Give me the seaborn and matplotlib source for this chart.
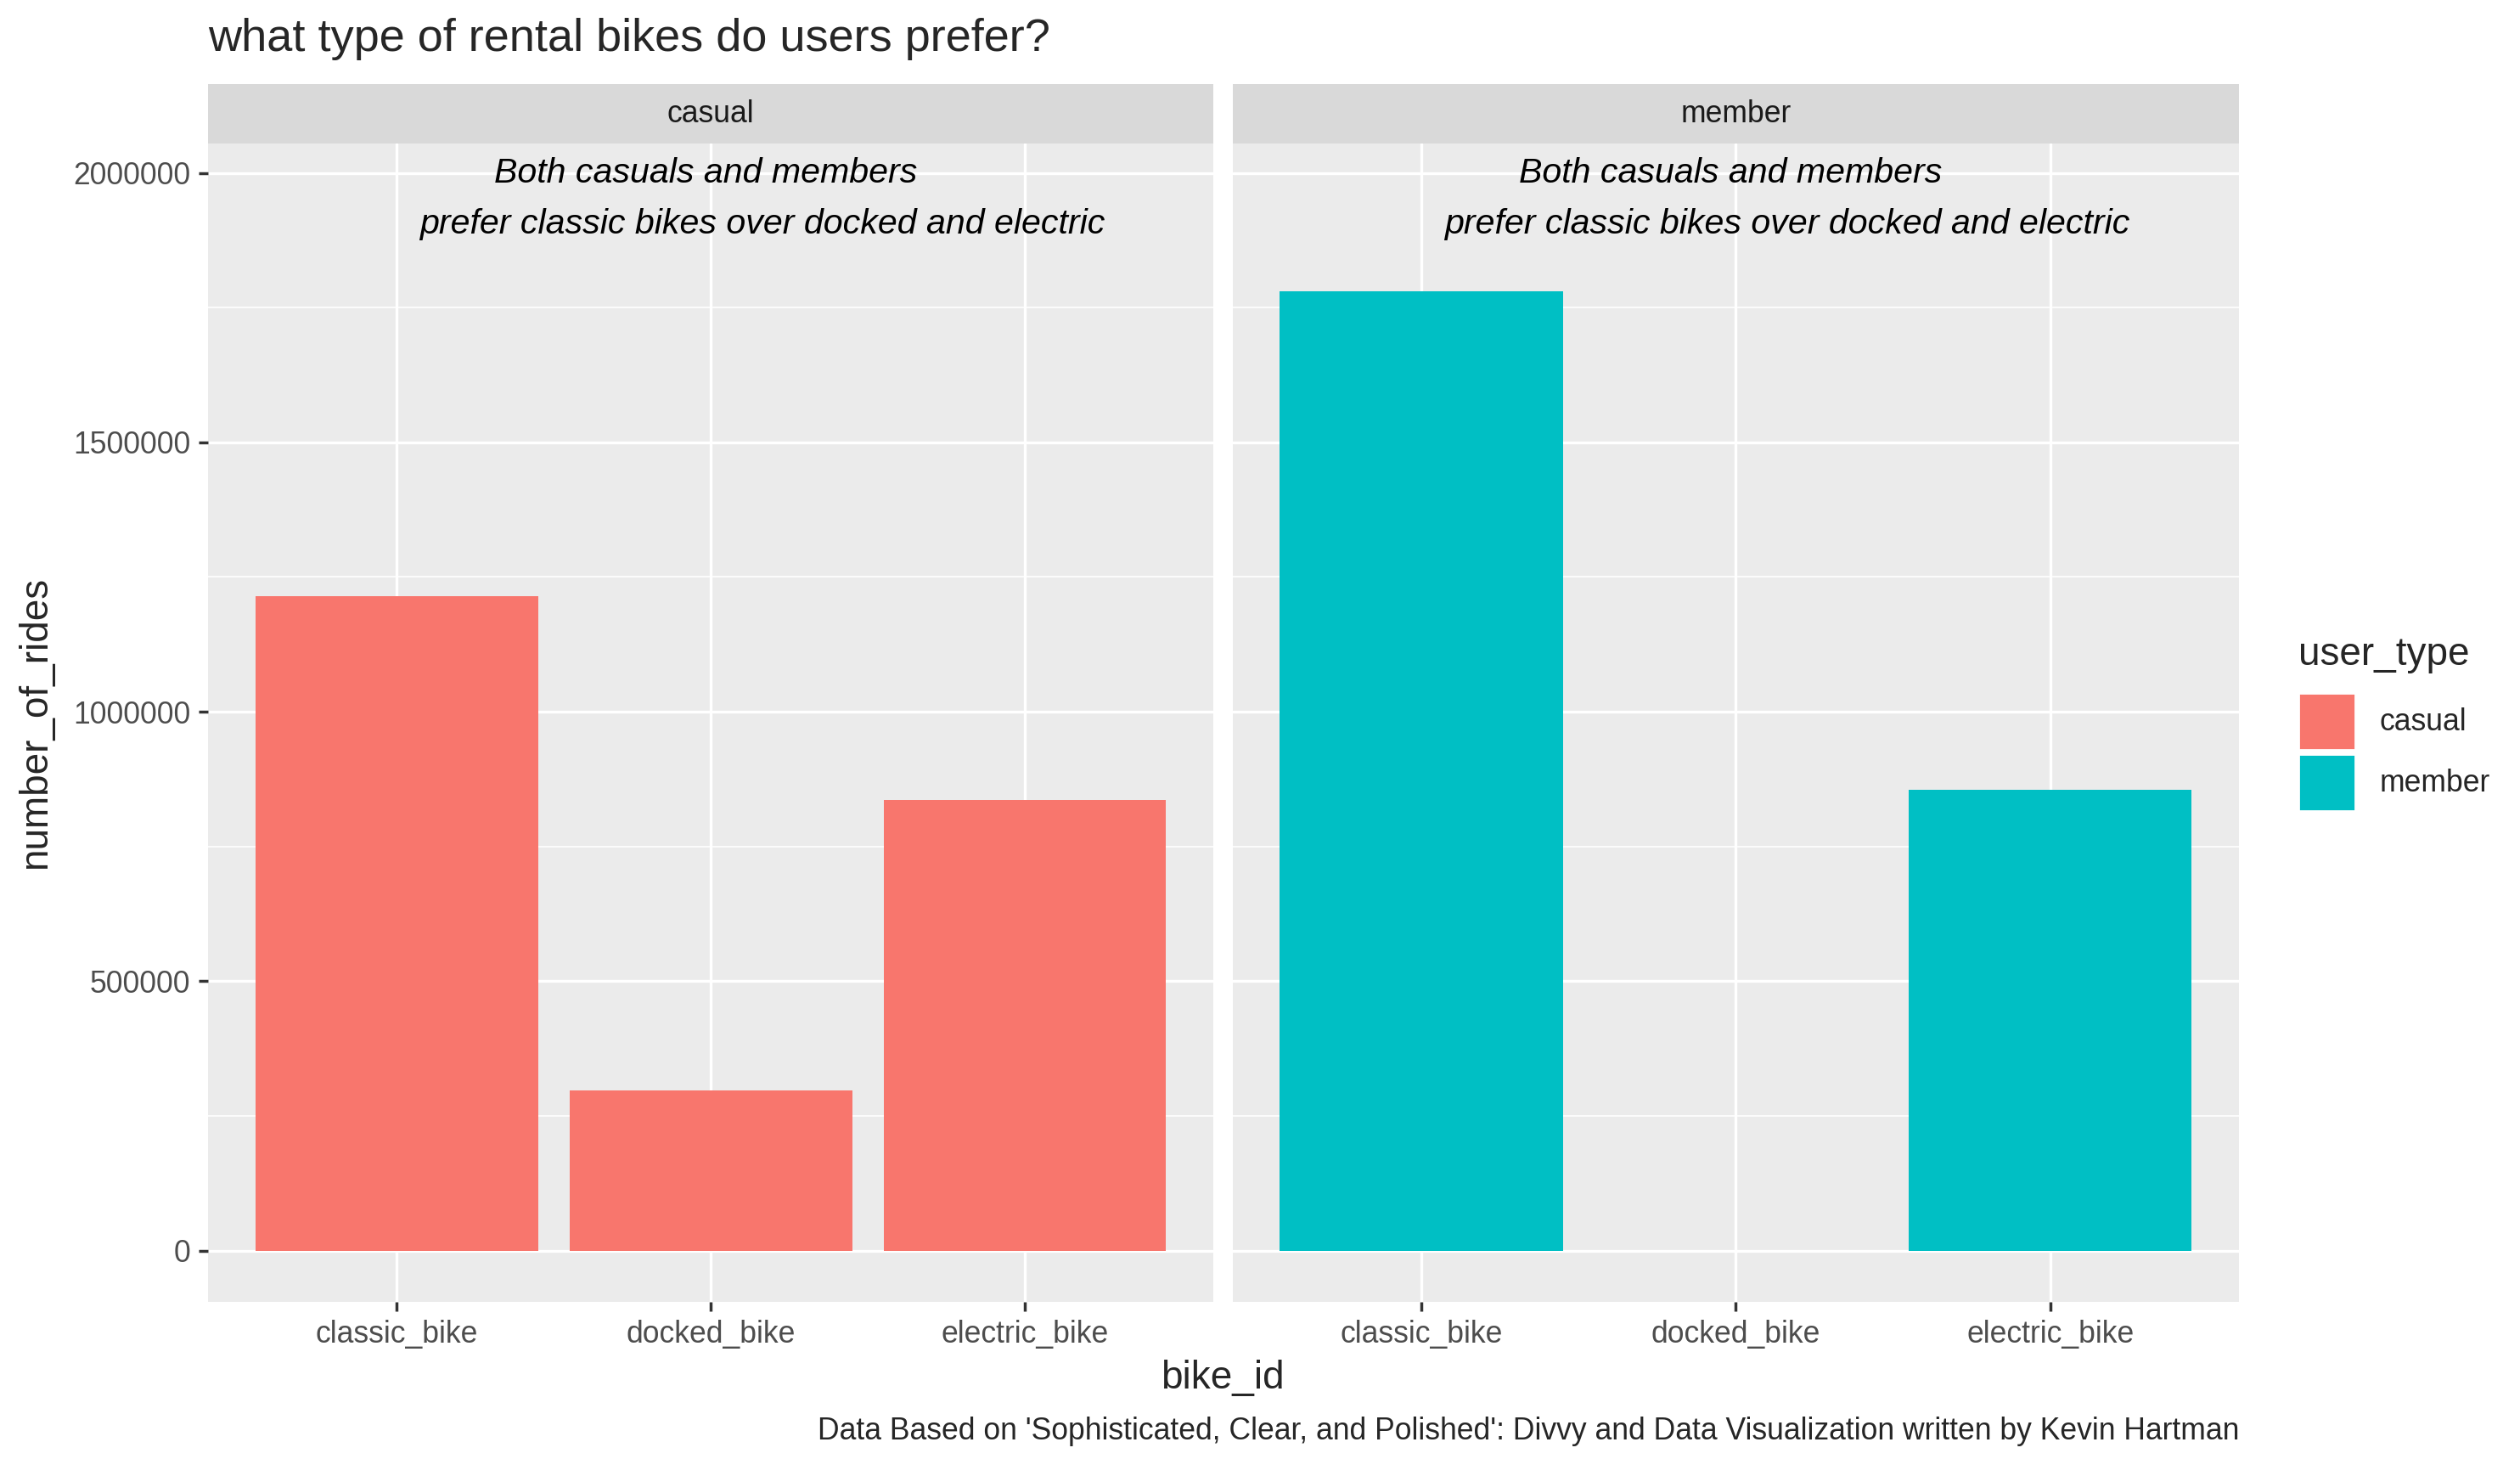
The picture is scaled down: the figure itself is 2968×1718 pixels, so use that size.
import matplotlib
matplotlib.use("Agg")
import matplotlib.pyplot as plt
import seaborn as sns
import pandas as pd
from matplotlib.patches import Rectangle

bike_types = ["classic_bike", "docked_bike", "electric_bike"]
casual_rides = [1214000, 297000, 836600]
member_rides = [1781000, 0, 854600]
user_types = ["casual", "member"]
colors = {"casual": "#F8766D", "member": "#00BFC4"}
yticks = [0, 500000, 1000000, 1500000, 2000000]

df = pd.DataFrame({
    "bike_id": bike_types * 2,
    "number_of_rides": casual_rides + member_rides,
    "user_type": ["casual"] * 3 + ["member"] * 3,
})

sns.set_theme(style="white")
plt.rcParams["font.family"] = ["Liberation Sans", "DejaVu Sans"]

W, H = 1560, 903
fig = plt.figure(figsize=(2968 / 200, 1718 / 200), dpi=200)

def fx(px): return px / W
def fy(py): return 1 - py / H

TICK = 12.8
panels = [(129, 751), (763, 1386)]
ptop, pbot, stop = 89, 806, 52
for i, (ut, (l, r)) in enumerate(zip(user_types, panels)):
    ax = fig.add_axes([fx(l), fy(pbot), fx(r) - fx(l), fy(ptop) - fy(pbot)])
    sub = df[df.user_type == ut]
    ax.set_facecolor("#EBEBEB")
    for y in [250000, 750000, 1250000, 1750000]:
        ax.axhline(y, color="white", lw=0.6, zorder=0)
    for y in yticks:
        ax.axhline(y, color="white", lw=1.2, zorder=0)
    for x in range(3):
        ax.axvline(x, color="white", lw=1.2, zorder=0)
    sns.barplot(data=sub, x="bike_id", y="number_of_rides", color=colors[ut],
                width=0.9, saturation=1, ax=ax, zorder=2, order=bike_types,
                edgecolor="none", linewidth=0)
    ax.set_xlim(-0.6, 2.6)
    ax.set_ylim(-96000, 2054000)
    ax.set_yticks(yticks)
    for s in ax.spines.values():
        s.set_visible(False)
    ax.tick_params(axis="both", length=4, color="#333333", labelsize=TICK,
                   labelcolor="#4D4D4D", direction="out", bottom=True, left=(i == 0))
    if i == 0:
        ax.set_yticklabels([str(v) for v in yticks])
    else:
        ax.set_yticklabels([])
    ax.set_xlabel("")
    ax.set_ylabel("")
    ax.text(0.984, 2000000, "Both casuals and members", style="italic",
            ha="center", va="center", fontsize=14.8, color="black", zorder=3)
    ax.text(1.164, 1904000, "prefer classic bikes over docked and electric", style="italic",
            ha="center", va="center", fontsize=14.8, color="black", zorder=3)
    sax = fig.add_axes([fx(l), fy(ptop), fx(r) - fx(l), fy(stop) - fy(ptop)])
    sax.set_facecolor("#D9D9D9")
    sax.set_xticks([]); sax.set_yticks([])
    for s in sax.spines.values():
        s.set_visible(False)
    sax.text(0.5, 0.5, ut, ha="center", va="center", fontsize=TICK,
             color="#1A1A1A", transform=sax.transAxes)

fig.text(fx(129), fy(24), "what type of rental bikes do users prefer?",
         fontsize=19.5, ha="left", va="center")
fig.text(fx(757), fy(853), "bike_id", fontsize=16.5, ha="center", va="center")
fig.text(fx(22), fy(447), "number_of_rides", fontsize=16.5, ha="center",
         va="center", rotation=90)
fig.text(fx(1386), fy(886),
         "Data Based on 'Sophisticated, Clear, and Polished': Divvy and Data Visualization written by Kevin Hartman",
         fontsize=TICK, ha="right", va="center")

fig.text(fx(1423), fy(405), "user_type", fontsize=16.5, ha="left", va="center")
for j, ut in enumerate(user_types):
    y0 = 429 + j * 38
    fig.patches.append(Rectangle((fx(1423), fy(y0 + 35)), fx(35), fy(y0) - fy(y0 + 35),
                                 transform=fig.transFigure, facecolor=colors[ut],
                                 edgecolor="white", lw=1))
    fig.text(fx(1473), fy(y0 + 18), ut, fontsize=TICK, ha="left", va="center")

fig.savefig("out.png", dpi=200, facecolor="white")
